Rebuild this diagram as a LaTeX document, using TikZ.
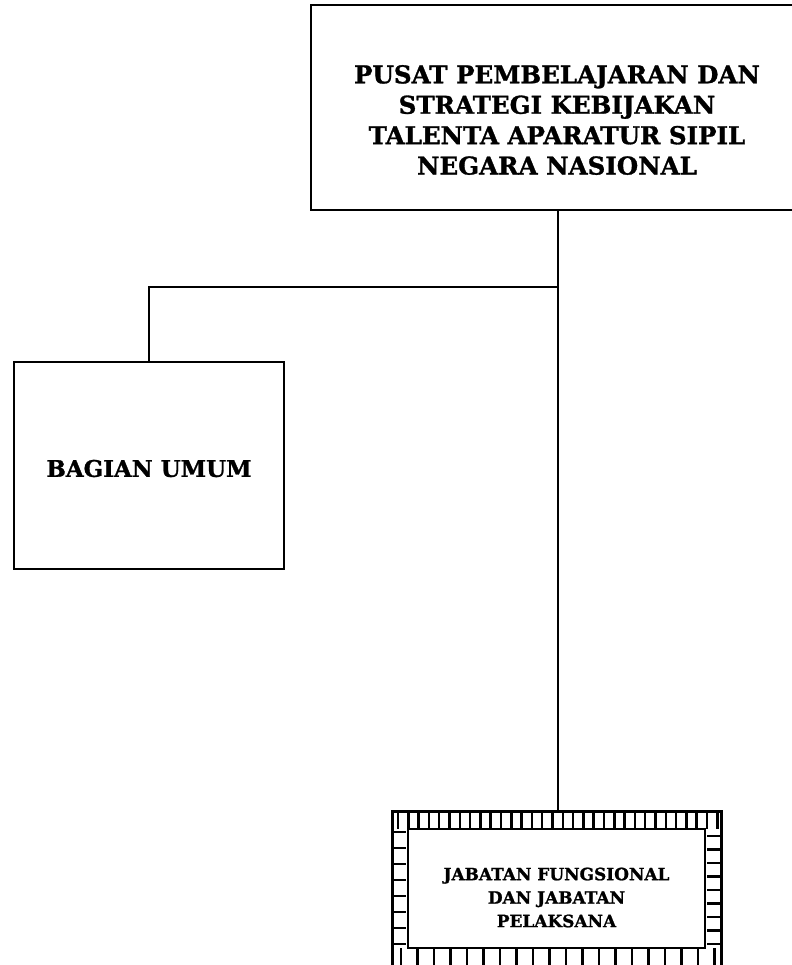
\documentclass[tikz,border=0pt]{standalone}
\usepackage{fontspec}
\setmainfont{DejaVu Serif}[BoldFeatures={FakeBold=1.2}]
\usetikzlibrary{calc}
\tikzset{
  unitbox/.style={draw=black, line width=1.5pt, fill=white, inner sep=0pt},
  boxtext/.style={align=center, inner sep=0pt},
  conn/.style={draw=black, line width=1.5pt},
  rung/.style={draw=black, line width=1.9pt},
}
\begin{document}
\begin{tikzpicture}[x=0.75pt,y=-0.75pt]
\useasboundingbox (0,0) rectangle (792,965);
\clip (0,0) rectangle (792,965);
% top box
\node[unitbox, minimum width=494*0.75pt, minimum height=205*0.75pt] (top) at (558,107.5) {};
\node[boxtext, font=\fontsize{18.4}{22.8}\selectfont\bfseries] (toptext) at ($(top.center)+(-1,12.5)$)
  {PUSAT PEMBELAJARAN DAN\\ STRATEGI KEBIJAKAN\\ TALENTA APARATUR SIPIL\\ NEGARA NASIONAL};
% bagian umum
\node[unitbox, minimum width=270*0.75pt, minimum height=207*0.75pt] (bu) at (149,465.5) {};
\node[boxtext, font=\fontsize{17.2}{20}\selectfont\bfseries] (butext) at ($(bu.center)+(0,3)$) {BAGIAN UMUM};
% bottom frame (outer)
\node[unitbox, minimum width=328*0.75pt, minimum height=168*0.75pt] (jf) at (557,896) {};
% ladder rungs
\foreach \x in {398,408.3,...,720} { \draw[rung] (\x,812) -- (\x,829); }
\foreach \x in {401,417.5,...,720} { \draw[rung] (\x,948) -- (\x,980); }
\foreach \y in {832,848,...,948} { \draw[rung] (393,\y) -- (406,\y); }
\foreach \y in {836,849.5,...,948} { \draw[rung] (707,\y) -- (721,\y); }
\draw[black, line width=1.5pt] (jf.north west) rectangle (jf.south east);
% inner box
\node[unitbox, line width=2pt, minimum width=297*0.75pt, minimum height=119*0.75pt] (jfin) at (556.5,888.5) {};
\node[boxtext, font=\fontsize{12.7}{17.6}\selectfont\bfseries] (jftext) at ($(jfin.center)+(0,9)$)
  {JABATAN FUNGSIONAL\\ DAN JABATAN\\ PELAKSANA};
% connectors
\coordinate (j) at (top.south |- 0,287);
\draw[conn] (top.south) -- (top.south |- jf.north);
\draw[conn] (j) -| (bu.north);
\end{tikzpicture}
\end{document}
